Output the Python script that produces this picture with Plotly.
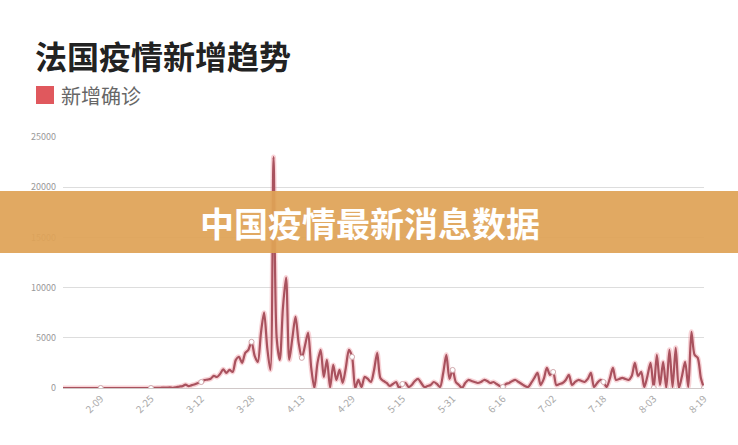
import pandas as pd
import plotly.graph_objects as go

title_text = "法国疫情新增趋势"
series_name = "新增确诊"
banner_text = "中国疫情最新消息数据"

start_date = "2020-01-28"
end_date = "2020-08-19"
dates = pd.date_range(start_date, end_date)
categories = [f"{d.month}-{d.day:02d}" for d in dates]

new_cases = [
    0, 1, 0, 0, 1, 0, 0, 0, 0, 0, 0, 0,
    5, 1, 0, 0, 1, 0, 0, 0, 0, 0, 0, 0,
    0, 0, 0, 0, 2, 4, 20, 19, 43,
    30, 61, 21, 73, 138, 190, 336, 177, 286, 372, 497, 595,
    785, 838, 924, 1210, 1097, 1404, 1861,
    1500, 1800, 1600, 2800, 3100, 2500, 3500, 3800,
    4600, 3200, 2600, 5500, 7500, 4000, 1800, 23000, 5000, 2800,
    8000, 11000, 2800, 5000, 7100, 4500, 3000, 4200, 5500, 2000,
    0, 2500, 3800, 1100, 2800, 50, 2300, 800, 1800, 500,
    2000, 3800, 3100, 0, 800, 100, 1100, 900, 600, 1800,
    3500, 1000, 700, 500, 200, 400, 600, 0, 400, 500,
    100, 300, 700, 900, 500, 100, 200, 300, 600, 400,
    100, 1500, 3300, 900, 1800, 600, 300, 0, 500, 800,
    700, 600, 500, 600, 800, 700, 500, 600, 400, 200,
    100, 400, 500, 700, 800, 600, 400, 200, 100, 500,
    1000, 1500, 300, 900, 2000, 1300, 1600, 300, 400, 500,
    800, 1300, 300, 600, 800, 700, 600, 900, 1500, 100,
    500, 800, 600, 100, 900, 2000, 800, 900, 1000, 900,
    800, 1200, 2500, 1200, 1600, 100, 1200, 2500, 0, 3300,
    300, 2600, 0, 3800, 100, 4000, 0, 1200, 2600, 100,
    5600, 3300, 3000, 1000, 0,
]

x_tick_labels = ["2-09", "2-25", "3-12", "3-28", "4-13", "4-29", "5-15",
                 "5-31", "6-16", "7-02", "7-18", "8-03", "8-19"]
y_tick_values = [0, 5000, 10000, 15000, 20000, 25000]
y_tick_labels = ["0", "5000", "10000", "15000", "20000", "25000"]

lookup = dict(zip(categories, new_cases))
marker_y = [lookup[t] for t in x_tick_labels]

fig = go.Figure()
fig.add_trace(go.Scatter(
    x=categories, y=new_cases, mode="lines",
    line=dict(color="rgba(235,130,140,0.35)", width=5, shape="spline", smoothing=0.8),
    hoverinfo="skip", showlegend=False,
))
fig.add_trace(go.Scatter(
    x=categories, y=new_cases, mode="lines", name=series_name,
    line=dict(color="#a9525e", width=2.2, shape="spline", smoothing=0.8),
    showlegend=False,
))
fig.add_trace(go.Scatter(
    x=x_tick_labels, y=marker_y, mode="markers",
    marker=dict(symbol="circle", size=5, color="white",
                line=dict(color="#d0aaae", width=1)),
    hoverinfo="skip", showlegend=False,
))

W, H = 738, 445
L, R, T, B = 63, 34, 137, 57
pw, ph = W - L - R, H - T - B


def px(xp):
    return (xp - L) / pw


def py(yp):
    return (H - B - yp) / ph


fig.update_layout(
    width=W, height=H,
    margin=dict(l=L, r=R, t=T, b=B),
    paper_bgcolor="white", plot_bgcolor="white",
    font=dict(family="Noto Sans CJK SC, Noto Sans, sans-serif"),
    xaxis=dict(
        type="category", range=[0, len(categories) - 1],
        tickmode="array", tickvals=x_tick_labels, ticktext=x_tick_labels,
        tickangle=-45, tickfont=dict(size=10, color="#aaaaaa"),
        showgrid=False, showline=True, linecolor="#d0c8c8", linewidth=1,
        ticks="", zeroline=False,
    ),
    yaxis=dict(
        range=[0, 25000], tickmode="array", tickvals=y_tick_values,
        ticktext=y_tick_labels,
        tickfont=dict(size=9, color="#999999"),
        showgrid=True, gridcolor="#dddddd", gridwidth=1,
        zeroline=False, showline=False, ticks="", ticklabelstandoff=6,
    ),
    shapes=[
        dict(type="rect", xref="paper", yref="paper",
             x0=px(36), x1=px(54), y0=py(104), y1=py(86),
             fillcolor="#e0585d", line=dict(width=0)),
        dict(type="rect", xref="paper", yref="paper", layer="above",
             x0=px(0), x1=px(W), y0=py(253), y1=py(191),
             fillcolor="rgba(223,162,86,0.93)", line=dict(width=0)),
    ],
    annotations=[
        dict(text=f"<b>{title_text}</b>", xref="paper", yref="paper",
             x=px(33), y=py(55), xanchor="left", yanchor="middle",
             showarrow=False, font=dict(size=32, color="#222222",
                                        family="Noto Sans CJK SC")),
        dict(text=series_name, xref="paper", yref="paper",
             x=px(59), y=py(96), xanchor="left", yanchor="middle",
             showarrow=False, font=dict(size=20, color="#666666",
                                        family="Noto Sans CJK SC")),
        dict(text=f"<b>{banner_text}</b>", xref="paper", yref="paper",
             x=px(370), y=py(222), xanchor="center", yanchor="middle",
             showarrow=False, font=dict(size=34, color="white",
                                        family="Noto Sans CJK SC")),
    ],
)

fig.write_html(
    "out.html",
    config={"displayModeBar": False},
    post_script="document.body.style.margin='0';document.body.style.overflow='hidden';",
)
